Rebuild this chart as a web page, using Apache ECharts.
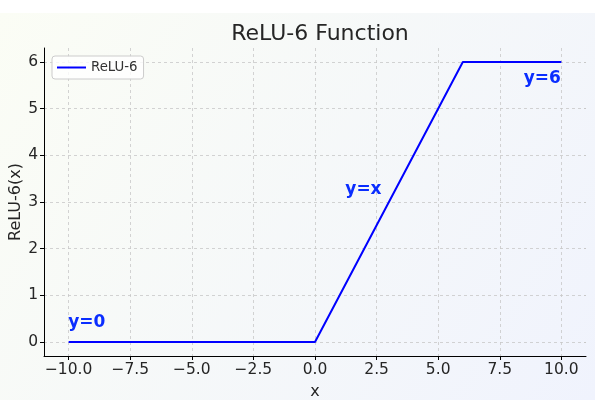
<!DOCTYPE html>
<html><head><meta charset="utf-8">
<script src="https://cdn.jsdelivr.net/npm/echarts@6/dist/echarts.min.js"></script>
<style>html,body{margin:0;padding:0;background:#fff}#c{width:600px;height:400px}</style>
</head><body><div id="c"></div>
<script>
const xPoints = [-10, 0, 6, 10];
const yPoints = [0, 0, 6, 6];
const xTicks = [-10, -7.5, -5, -2.5, 0, 2.5, 5, 7.5, 10];
const yTicks = [0, 1, 2, 3, 4, 5, 6];
const annotations = [
  {text: 'y=0', x: -10, y: 0.22, align: 'left', vAlign: 'bottom'},
  {text: 'y=x', x: 1.25, y: 3.08, align: 'left', vAlign: 'bottom'},
  {text: 'y=6', x: 10, y: 5.82, align: 'right', vAlign: 'top'}
];
const chart = echarts.init(document.getElementById('c'));
const font = 'DejaVu Sans';
const txt = '#262626';
chart.setOption({
  animation: false,
  textStyle: {fontFamily: font},
  graphic: [{
    type: 'rect', z: -10, silent: true,
    shape: {x: 0, y: 13, width: 595, height: 387},
    style: {fill: new echarts.graphic.LinearGradient(0, 0, 1, 1, [
      {offset: 0, color: '#fbfdf5'}, {offset: 1, color: '#f0f3fd'}])}
  }],
  title: {text: 'ReLU-6 Function', left: 315, top: 18, textAlign: 'center',
    textStyle: {fontFamily: font, fontSize: 22, fontWeight: 'normal', color: txt}},
  legend: {left: 52, top: 56, orient: 'vertical', itemWidth: 29, itemHeight: 2, itemGap: 6,
    padding: [5, 6, 5, 5], borderColor: '#cccccc', borderWidth: 1, borderRadius: 3,
    backgroundColor: 'rgba(255,255,255,0.8)',
    textStyle: {fontFamily: font, fontSize: 13.3, color: '#333'},
    data: [{name: 'ReLU-6', icon: 'rect'}]},
  grid: {left: 44, right: 14, top: 48, bottom: 44, containLabel: false, outerBoundsMode: 'none'},
  xAxis: {
    type: 'value', min: -11, max: 11,
    name: 'x', nameLocation: 'middle', nameGap: 28,
    nameTextStyle: {fontFamily: font, fontSize: 16, color: txt},
    axisLine: {show: true, onZero: false, lineStyle: {color: '#000', width: 1}},
    axisTick: {show: true, length: 4, lineStyle: {color: '#000'}, customValues: xTicks},
    axisLabel: {fontFamily: font, fontSize: 15.5, color: txt, margin: 6, customValues: xTicks,
      formatter: v => (v < 0 ? '\u2212' : '') + Math.abs(v).toFixed(1)},
    splitLine: {show: true, lineStyle: {color: '#c8c8c8', type: [3, 3], width: 0.8}}
  },
  yAxis: {
    type: 'value', min: -0.3, max: 6.3,
    name: 'ReLU-6(x)', nameLocation: 'middle', nameGap: 20, nameMoveOverlap: false,
    nameTextStyle: {fontFamily: font, fontSize: 16, color: txt},
    axisLine: {show: true, onZero: false, lineStyle: {color: '#000', width: 1}},
    axisTick: {show: true, length: 4, lineStyle: {color: '#000'}, customValues: yTicks},
    axisLabel: {fontFamily: font, fontSize: 15.5, color: txt, margin: 6, customValues: yTicks},
    splitLine: {show: true, lineStyle: {color: '#c8c8c8', type: [3, 3], width: 0.8}}
  },
  series: [{
    name: 'ReLU-6', type: 'line', showSymbol: false, symbol: 'none',
    color: '#0000ff', lineStyle: {color: '#0000ff', width: 2},
    data: xPoints.map((x, i) => [x, yPoints[i]])
  }, {
    name: 'notes', type: 'scatter', symbolSize: 1, silent: true,
    itemStyle: {opacity: 0},
    data: annotations.map(a => ({value: [a.x, a.y], label: {
      show: true, position: [0, 0], formatter: a.text, align: a.align,
      verticalAlign: a.vAlign, fontFamily: font, fontSize: 17, fontWeight: 'bold',
      color: '#0a2dff', textBorderWidth: 0, opacity: 1}}))
  }]
});
</script></body></html>
